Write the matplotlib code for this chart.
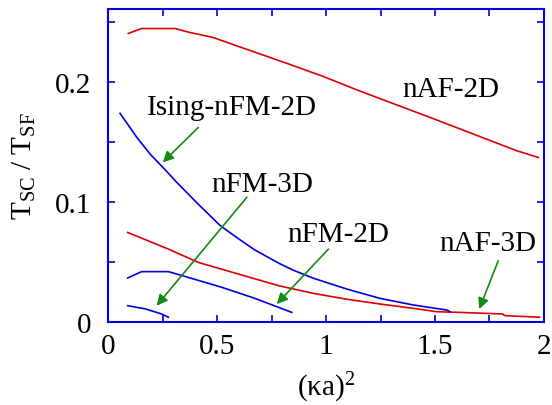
import matplotlib
matplotlib.use('Agg')
import matplotlib.pyplot as plt

plt.rcParams['font.family'] = ['Liberation Serif', 'DejaVu Serif']
plt.rcParams['mathtext.fontset'] = 'custom'
plt.rcParams['mathtext.rm'] = 'Liberation Serif'
plt.rcParams['mathtext.it'] = 'Liberation Serif:italic'

# curves: x = (ka)^2, y = Tsc/Tsf
naf2d_x = [0.093, 0.154, 0.307, 0.376, 0.483, 0.590, 0.713, 0.835, 0.988,
           1.141, 1.294, 1.477, 1.676, 1.875, 1.974]
naf2d_y = [0.2406, 0.2447, 0.2447, 0.2414, 0.2372, 0.2303, 0.2225, 0.2147,
           0.2047, 0.1936, 0.1831, 0.1706, 0.1567, 0.1428, 0.1372]

ising_x = [0.055, 0.132, 0.193, 0.254, 0.315, 0.407, 0.514, 0.59, 0.674,
           0.789, 0.850, 0.942, 1.095, 1.248, 1.400, 1.554, 1.569]
ising_y = [0.174, 0.154, 0.140, 0.1285, 0.1165, 0.0995, 0.0805, 0.0705, 0.0600,
           0.0485, 0.0432, 0.0365, 0.0275, 0.0197, 0.0142, 0.010, 0.0086]

naf3d_x = [0.090, 0.277, 0.414, 0.598, 0.789, 0.942, 1.095, 1.248, 1.400,
           1.508, 1.615, 1.81, 1.82, 1.98]
naf3d_y = [0.0747, 0.0608, 0.0497, 0.040, 0.030, 0.0239, 0.019, 0.015,
           0.0114, 0.0086, 0.008, 0.0067, 0.0053, 0.004]

nfm2d_x = [0.090, 0.154, 0.277, 0.353, 0.521, 0.674, 0.843]
nfm2d_y = [0.0367, 0.042, 0.042, 0.038, 0.029, 0.0197, 0.008]

nfm3d_x = [0.090, 0.170, 0.246, 0.277]
nfm3d_y = [0.0136, 0.011, 0.0067, 0.004]

# labels: text, text position, arrow tail, arrow head
labels = ['nAF-2D', 'Ising-nFM-2D', 'nFM-3D', 'nFM-2D', 'nAF-3D']
label_pos = [(1.573, 0.194), (0.569, 0.179), (0.706, 0.115), (1.055, 0.0733), (1.743, 0.066)]
arrow_tail = [None, (0.414, 0.1622), (0.637, 0.104), (1.011, 0.0608), (1.79, 0.051)]
arrow_head = [None, (0.251, 0.1331), (0.223, 0.0136), (0.774, 0.015), (1.703, 0.0108)]

fig = plt.figure(figsize=(5.52, 4.06), dpi=100)
ax = fig.add_axes([0.1957, 0.2044, 0.7898, 0.771])

red = '#e00000'
blue = '#0000e0'
green = '#138a13'

ax.plot(naf2d_x, naf2d_y, color=red, lw=1.2)
ax.plot(naf3d_x, naf3d_y, color=red, lw=1.2)
ax.plot(ising_x, ising_y, color=blue, lw=1.2)
ax.plot(nfm2d_x, nfm2d_y, color=blue, lw=1.2)
ax.plot(nfm3d_x, nfm3d_y, color=blue, lw=1.2)

for txt, pos, tail, head in zip(labels, label_pos, arrow_tail, arrow_head):
    ax.text(pos[0], pos[1], txt, fontsize=21, ha='center', va='center')
    if tail is not None:
        ax.annotate('', xy=head, xytext=tail,
                    arrowprops=dict(arrowstyle='-|>', color=green, lw=1.2,
                                    mutation_scale=16, shrinkA=0, shrinkB=0))

ax.set_xlim(0, 2)
ax.set_ylim(0, 0.261)
ax.set_xticks([0, 0.5, 1, 1.5, 2])
ax.set_xticklabels(['0', '0.5', '1', '1.5', '2'])
ax.set_xticks([0.25, 0.75, 1.25, 1.75], minor=True)
ax.set_yticks([0, 0.1, 0.2])
ax.set_yticklabels(['0', '0.1', '0.2'])
ax.set_yticks([0.05, 0.15, 0.25], minor=True)

for s in ax.spines.values():
    s.set_color(blue)
    s.set_linewidth(1.5)
ax.tick_params(which='both', direction='in', top=True, right=True, color=blue,
               length=5, width=1.2, labelsize=21)
ax.tick_params(axis='x', which='both', pad=8)
ax.tick_params(axis='y', which='both', pad=12)

ax.set_xlabel(r'$\mathregular{(κa)^2}$', fontsize=21, labelpad=8)
ax.set_ylabel(r'$\mathregular{T_{SC}\ /\ T_{SF}}$', fontsize=21, labelpad=12)

fig.savefig('out.png', dpi=100)
